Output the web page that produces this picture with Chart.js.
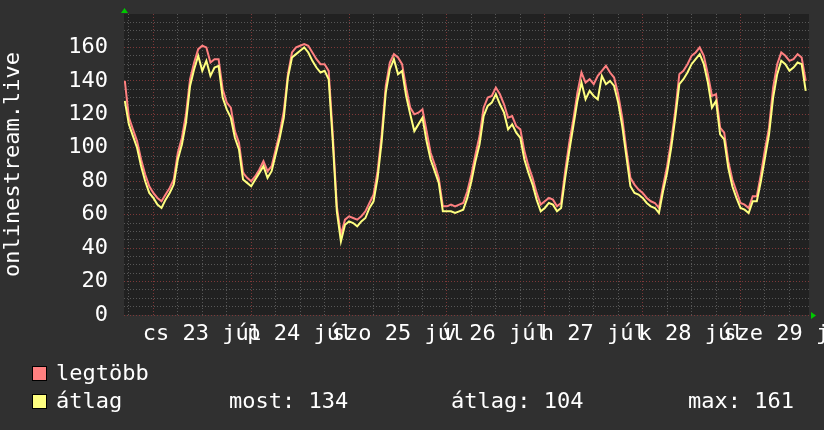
<!DOCTYPE html>
<html>
<head>
<meta charset="utf-8">
<script src="https://cdn.jsdelivr.net/npm/chart.js@4"></script>
<style>
html,body{margin:0;padding:0;background:#303030;}
#wrap{position:relative;width:824px;height:430px;overflow:hidden;background:#303030;}
#c{position:absolute;left:0;top:0;}
.lg{position:absolute;font-family:'DejaVu Sans Mono',monospace;font-size:22px;line-height:22px;color:#ffffff;white-space:pre;}
.sw{position:absolute;width:15px;height:15px;box-sizing:border-box;border:1px solid #000;}
</style>
</head>
<body>
<div id="wrap">
  <canvas id="c" width="824" height="430"></canvas>
  <div class="sw" id="sw0" style="left:32px;top:366px;"></div>
  <div class="lg" id="name0" style="left:56px;top:362px;"></div>
  <div class="sw" id="sw1" style="left:32px;top:394px;"></div>
  <div class="lg" id="name1" style="left:56px;top:390px;"></div>
  <div class="lg" id="stat0" style="left:229px;top:390px;"></div>
  <div class="lg" id="stat1" style="left:451px;top:390px;"></div>
  <div class="lg" id="stat2" style="left:688px;top:390px;"></div>
</div>
<script>
// ---- data (hourly samples, hour 0 = 23 júl 00:00) ----
const FIRST_HOUR = -7;
const X_MIN = -7.2;
const X_MAX = 160.8;

const seriesNames = ['legtöbb', 'átlag'];
const seriesColors = ['#ff8080', '#ffff80'];

const legtobb = [
  140,118,111,104,93,84,77,
  73,70,68,72,76,81,97,106,120,141,
  151,159,161,160,151,153,153,135,127,124,
  110,103,85,82,80,83,87,92,86,89,
  99,109,122,144,157,160,161,162,161,157,
  153,150,150,146,108,65,48,57,59,58,
  57,59,62,67,72,86,108,137,151,156,
  154,150,136,124,120,121,123,110,97,90,
  82,65,65,66,65,66,67,74,84,96,
  107,124,130,131,136,132,126,118,119,113,
  111,98,89,82,73,66,68,70,69,65,
  67,86,103,117,133,145,139,141,138,143,
  146,149,145,142,132,118,99,82,78,75,
  73,70,68,67,64,77,89,104,122,144,
  146,150,155,157,160,155,144,131,132,112,
  109,92,81,74,67,66,64,71,71,84,
  99,112,136,150,157,155,152,153,156,154,140
];

const atlag = [
  128,114,107,100,89,80,73,
  70,66,64,69,73,78,93,102,115,137,
  147,155,146,152,143,148,149,130,123,118,
  106,99,81,79,77,81,85,89,82,86,
  96,106,118,142,154,156,158,160,157,152,
  148,145,146,141,104,62,44,54,56,55,
  53,56,58,64,68,82,104,133,147,153,
  144,146,131,120,110,114,118,104,93,86,
  79,62,62,62,61,62,63,70,80,92,
  102,119,125,127,132,126,121,111,114,109,
  106,93,85,78,69,62,64,67,66,62,
  64,82,98,113,128,139,129,134,131,129,
  143,138,140,137,127,113,95,77,73,72,
  70,67,65,64,61,74,85,100,118,138,
  141,145,150,153,156,150,139,124,128,108,
  105,88,77,70,64,63,61,68,68,80,
  94,108,130,144,152,150,146,148,151,150,134
];

const dayLabels = ['cs 23 júl', 'p 24 júl', 'szo 25 júl', 'v 26 júl', 'h 27 júl', 'k 28 júl', 'sze 29 júl'];
const yLabelValues = [0, 20, 40, 60, 80, 100, 120, 140, 160];
const statLabels = ['most', 'átlag', 'max'];
const statValues = [134, 104, 161];
const yTitle = 'onlinestream.live';

// ---- styles ----
const FONT = {family: "'DejaVu Sans Mono', monospace", size: 22};
const PLOT_BG = '#212121';
const GRID_MINOR = '#575757';
const GRID_MAJOR = '#7d3838';

// legend
seriesNames.forEach((n, i) => {
  document.getElementById('name' + i).textContent = n;
  document.getElementById('sw' + i).style.background = seriesColors[i];
});
statLabels.forEach((s, i) => {
  document.getElementById('stat' + i).textContent = s + ': ' + statValues[i];
});

const toPoints = arr => arr.map((v, i) => ({x: FIRST_HOUR + i, y: v}));

const rrdPlugin = {
  id: 'rrd',
  beforeDraw(chart) {
    const {ctx, chartArea: a} = chart;
    ctx.save();
    ctx.fillStyle = PLOT_BG;
    ctx.fillRect(a.left, a.top, a.right - a.left, a.bottom - a.top);
    ctx.restore();
  },
  afterDraw(chart) {
    const {ctx, chartArea: a} = chart;
    ctx.save();
    ctx.fillStyle = '#00c800';
    ctx.beginPath();
    ctx.moveTo(a.left - 3, a.top - 1);
    ctx.lineTo(a.left + 4, a.top - 1);
    ctx.lineTo(a.left + 0.5, a.top - 6);
    ctx.closePath();
    ctx.fill();
    ctx.beginPath();
    ctx.moveTo(a.right + 2, a.bottom - 3);
    ctx.lineTo(a.right + 2, a.bottom + 4);
    ctx.lineTo(a.right + 7, a.bottom + 0.5);
    ctx.closePath();
    ctx.fill();
    ctx.restore();
  }
};

const xTickValues = [];
for (let h = -6; h <= 156; h += 6) xTickValues.push(h);
const yTickValues = [];
for (let v = 0; v <= 180; v += 5) yTickValues.push(v);

new Chart(document.getElementById('c'), {
  type: 'line',
  data: {
    datasets: [
      {label: seriesNames[0], data: toPoints(legtobb), borderColor: seriesColors[0], borderWidth: 2, pointRadius: 0, tension: 0, fill: false, order: 2},
      {label: seriesNames[1], data: toPoints(atlag), borderColor: seriesColors[1], borderWidth: 2, pointRadius: 0, tension: 0, fill: false, order: 1}
    ]
  },
  options: {
    responsive: false,
    animation: false,
    devicePixelRatio: 1,
    layout: {padding: {left: 0, top: 14, right: 15, bottom: 85}},
    plugins: {legend: {display: false}, tooltip: {enabled: false}},
    scales: {
      x: {
        type: 'linear',
        min: X_MIN,
        max: X_MAX,
        afterBuildTicks(s) { s.ticks = xTickValues.map(v => ({value: v})); },
        afterFit(s) { s.height = 30; s.paddingLeft = 0; s.paddingRight = 0; },
        ticks: {
          autoSkip: false, maxRotation: 0, minRotation: 0, padding: 6,
          color: '#ffffff', font: FONT,
          callback(v) {
            const m = ((v % 24) + 24) % 24;
            if (m === 12) return dayLabels[(v - 12) / 24] || '';
            return '';
          }
        },
        grid: {
          drawTicks: false,
          color(c) {
            const v = c.tick ? c.tick.value : 0;
            return (((v % 24) + 24) % 24 === 0) ? GRID_MAJOR : GRID_MINOR;
          },
          lineWidth: 1
        },
        border: {display: false, dash: [1, 2]}
      },
      y: {
        min: 0,
        max: 180,
        afterBuildTicks(s) { s.ticks = yTickValues.map(v => ({value: v})); },
        afterFit(s) { s.width = 124; s.paddingTop = 0; s.paddingBottom = 0; },
        ticks: {
          autoSkip: false, padding: 16, color: '#ffffff', font: FONT,
          callback(v) { return yLabelValues.includes(v) ? String(v) : ''; }
        },
        grid: {
          drawTicks: false,
          color(c) {
            const v = c.tick ? c.tick.value : 0;
            if (v >= 180) return 'rgba(0,0,0,0)';
            return v % 20 === 0 ? GRID_MAJOR : GRID_MINOR;
          },
          lineWidth: 1
        },
        border: {display: false, dash: [1, 2]},
        title: {display: true, text: yTitle, color: '#ffffff', font: FONT, padding: {top: 0, bottom: 0}}
      }
    }
  },
  plugins: [rrdPlugin]
});
</script>
</body>
</html>
